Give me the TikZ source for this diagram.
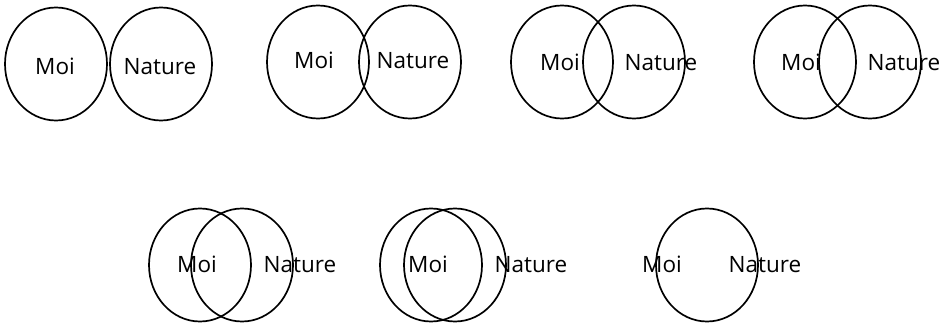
\documentclass[tikz,border=0pt]{standalone}
\usepackage{fontspec}
\setmainfont{Open Sans}
\usetikzlibrary{shapes.geometric}

\tikzset{
  ring/.style={ellipse, draw=black, line width=1.7pt, minimum width=102pt, minimum height=113pt, inner sep=0pt},
  word/.style={anchor=base, inner sep=0pt, text=black, font=\fontsize{22.5}{26}\selectfont}
}

\begin{document}
\begin{tikzpicture}[x=1pt, y=-1pt]
\useasboundingbox (0,0) rectangle (945,324);
% first row
\node[ring] (moiA) at (56,64) {};
\node[ring] (natA) at (161,64) {};
\node[word] (tmoiA) at (55,74) {Moi};
\node[word] (tnatA) at (160,74) {Nature};
\node[ring] (moiB) at (318,62) {};
\node[ring] (natB) at (410,62) {};
\node[word] (tmoiB) at (314,68) {Moi};
\node[word] (tnatB) at (413,68) {Nature};
\node[ring] (moiC) at (562,62) {};
\node[ring] (natC) at (634,62) {};
\node[word] (tmoiC) at (560,70) {Moi};
\node[word] (tnatC) at (661,70) {Nature};
\node[ring] (moiD) at (805,62) {};
\node[ring] (natD) at (870,62) {};
\node[word] (tmoiD) at (801,70) {Moi};
\node[word] (tnatD) at (904,70) {Nature};
% second row
\node[ring] (moiE) at (200,265) {};
\node[ring] (natE) at (242,265) {};
\node[word] (tmoiE) at (197,272) {Moi};
\node[word] (tnatE) at (300,272) {Nature};
\node[ring] (moiF) at (431,265) {};
\node[ring] (natF) at (455,265) {};
\node[word] (tmoiF) at (428,272) {Moi};
\node[word] (tnatF) at (531,272) {Nature};
\node[ring] (moiG) at (707,265) {};
\node[word] (tmoiG) at (662,272) {Moi};
\node[word] (tnatG) at (765,272) {Nature};
\end{tikzpicture}
\end{document}
